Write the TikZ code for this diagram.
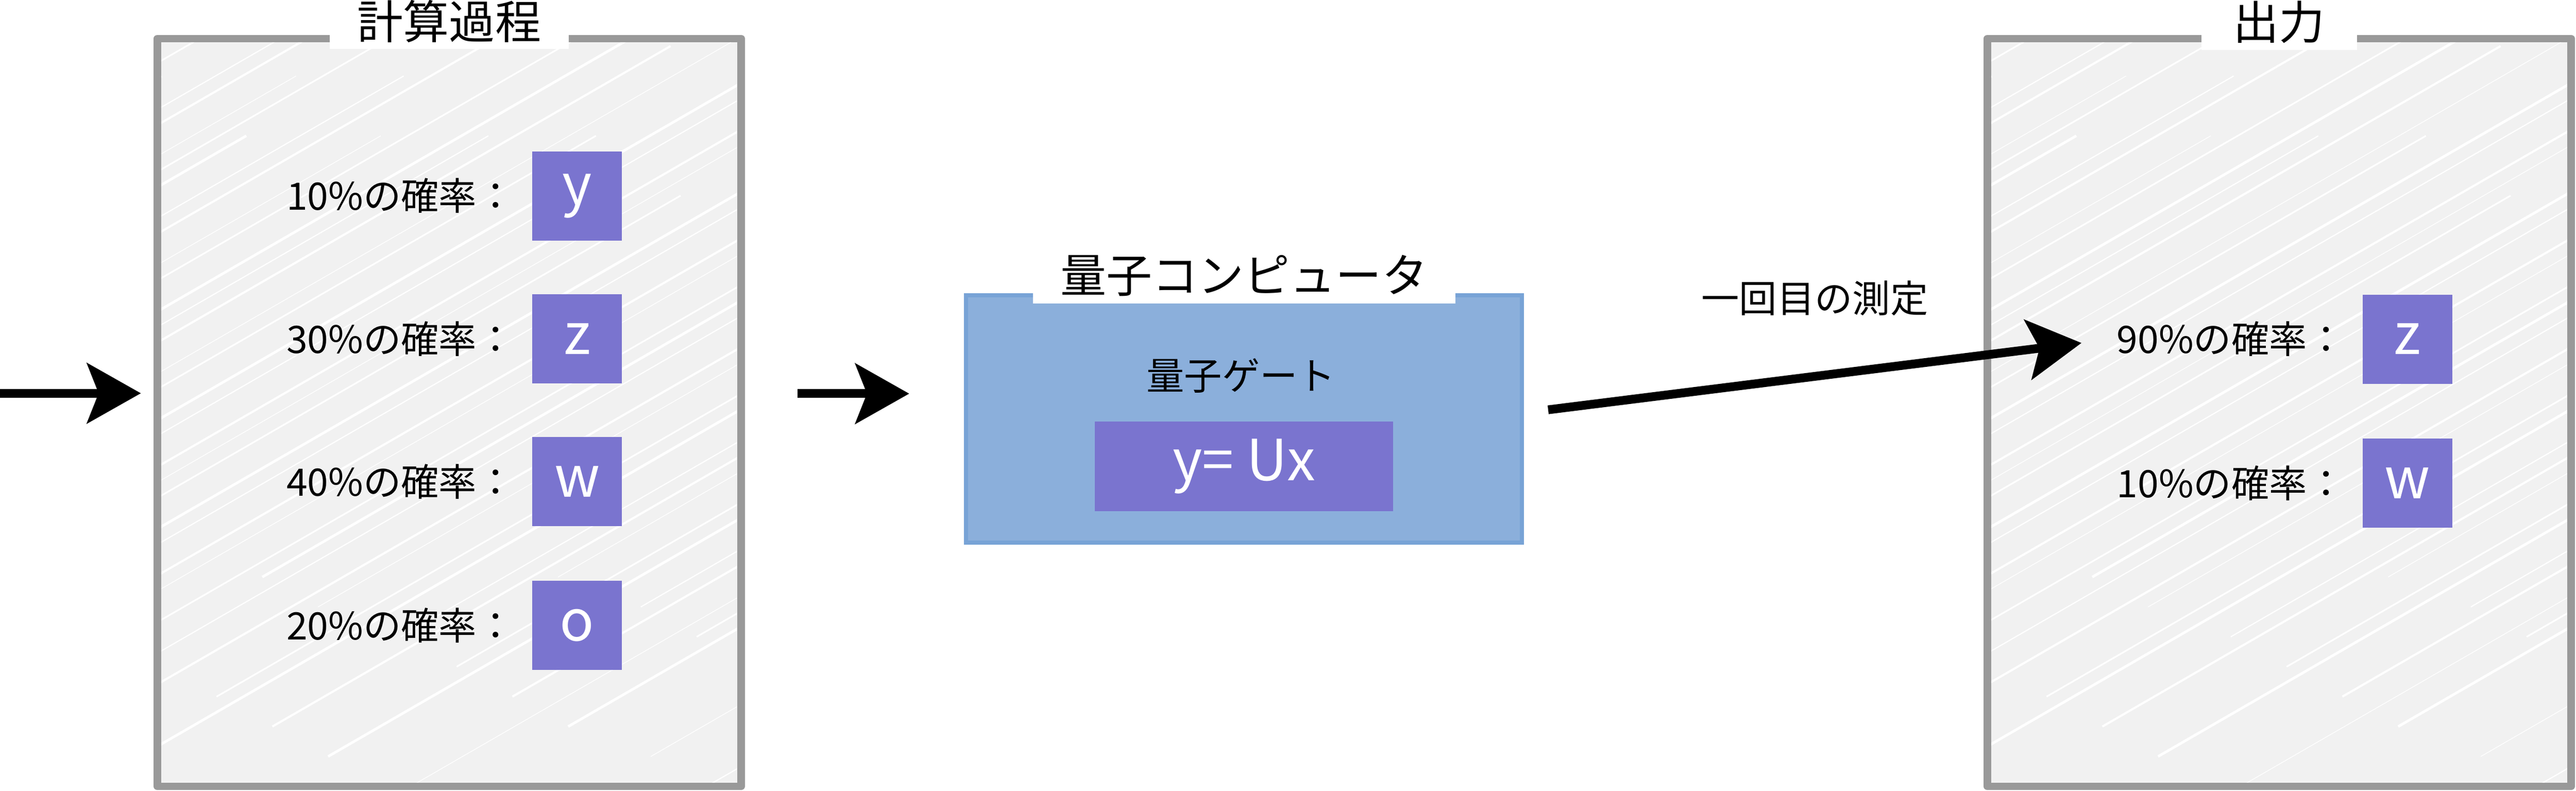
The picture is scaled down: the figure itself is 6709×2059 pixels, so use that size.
\documentclass[tikz,border=0pt]{standalone}
\usepackage{fontspec}
\setmainfont{Noto Sans CJK JP}
\usetikzlibrary{positioning,arrows.meta}
\definecolor{framegray}{HTML}{999999}
\definecolor{panelgray}{HTML}{F1F1F1}
\definecolor{qcblue}{HTML}{8BAFDB}
\definecolor{qcedge}{HTML}{78A3D6}
\definecolor{valpurple}{HTML}{7A74CF}

\begin{document}
\begin{tikzpicture}[x=0.01cm, y=-0.01cm,
	frame/.style={draw=framegray, fill=panelgray, line width=5.6pt, line join=round, inner sep=0pt,
		minimum width=15.2cm, minimum height=19.46cm,
		path picture={
			% sketchy white strokes
			\foreach \i in {0,...,48}{
				\pgfmathsetmacro\hw{0.5+0.35*mod(\i*7,5)}
				\pgfmathsetmacro\hs{0.04*mod(\i*13,8)}
				\pgfmathsetmacro\he{0.75+0.04*mod(\i*5,7)}
				\draw[white, line width=\hw pt]
					([xshift={\i*1.0cm+mod(\i*11,7)*0.1cm-34cm+\hs*33.7cm}, yshift={\hs*19.46cm}]path picture bounding box.south west)
					-- ++({\he*33.7cm},{\he*19.46cm});
			}
		}},
	qbox/.style={draw=qcedge, fill=qcblue, line width=3.1pt, inner sep=0pt, minimum width=14.47cm, minimum height=6.43cm},
	title/.style={fill=white, anchor=south, inner xsep=0.72cm, inner ysep=0pt, minimum height=1.45cm, font=\fontsize{34}{36}\selectfont},
	lbl/.style={inner sep=0pt, font=\fontsize{28}{30}\selectfont},
	val/.style={fill=valpurple, text=white, minimum width=2.33cm, minimum height=2.32cm, font=\fontsize{42}{44}\selectfont},
	flow/.style={line width=6.5pt, -{Stealth[length=1.4cm, width=1.56cm, inset=0.3cm]}},
]
\useasboundingbox (0,0) rectangle (6709,2059);

% 計算過程
\node[frame] (calc) at (1170,1074) {};
\node[title, yshift=-0.38cm] at (calc.north) {計算過程};
\node[val] (p1) at (1503,510) {y};
\node[val] (p2) at (1503,882) {z};
\node[val] (p3) at (1503,1254) {w};
\node[val] (p4) at (1503,1628) {o};
\node[lbl, left=0.45cm of p1] {10\%の確率：};
\node[lbl, left=0.45cm of p2] {30\%の確率：};
\node[lbl, left=0.45cm of p3] {40\%の確率：};
\node[lbl, left=0.45cm of p4] {20\%の確率：};

% 量子コンピュータ
\node[qbox] (qc) at (3240,1091) {};
\node[title, yshift=-0.27cm] at (qc.north) {量子コンピュータ};
\node[lbl] (gate) at (3232,978) {量子ゲート};
\node[val, minimum width=7.76cm, minimum height=2.34cm] (u) at (3240,1214) {y= Ux};

% 出力
\node[frame] (out) at (5936,1074) {};
\node[title, yshift=-0.4cm, minimum width=4.06cm] at (out.north) {出力};
\node[val] (q1) at (6270,883) {z};
\node[val] (q2) at (6270,1258) {w};
\node[lbl, left=0.45cm of q1] {90\%の確率：};
\node[lbl, left=0.45cm of q2] {10\%の確率：};

\coordinate (in0) at (0,1024);
\coordinate (in1) at (367,1024);
\coordinate (a0) at (2077,1025);
\coordinate (a1) at (2368,1025);
\coordinate (m0) at (4032,1067);
\coordinate (m1) at (5421,893);

\draw[flow] (in0) -- (in1);
\draw[flow] (a0) -- (a1);
\draw[flow] (m0) -- node[lbl, midway, yshift=2.03cm] {一回目の測定} (m1);

\end{tikzpicture}
\end{document}
